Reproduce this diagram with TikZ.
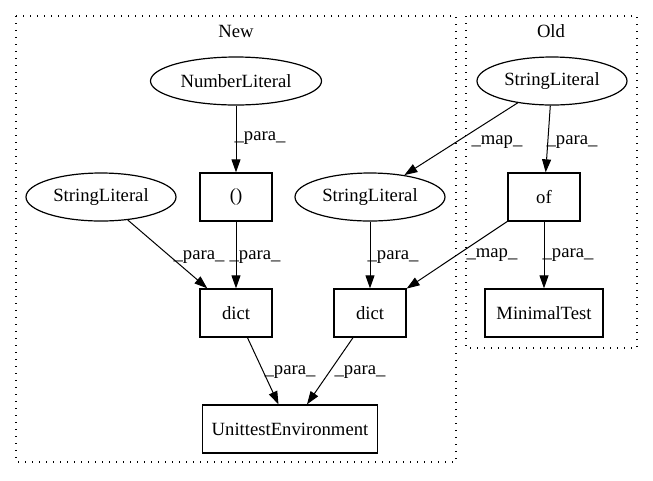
\documentclass[tikz,border=0pt]{standalone}
\usepackage{fontspec}
\setmainfont{Liberation Serif}
\usetikzlibrary{arrows.meta,shapes.geometric}

\tikzset{every picture/.style={line width=0.75pt}}

\begin{document}
\begin{tikzpicture}[x=0.75pt,y=0.75pt,yscale=-1,xscale=1,
    font=\fontsize{14}{16}\selectfont,
    box/.style={draw,rectangle,line width=1pt,inner sep=0pt,minimum width=54pt,minimum height=36pt},
    lit/.style={draw,ellipse,line width=0.9pt,inner sep=0pt,minimum width=112.5pt,minimum height=36pt},
    cluster/.style={draw,line width=1pt,dash pattern=on 1pt off 4.25pt},
    flow/.style={-{Triangle[length=9.75pt,width=6.75pt]}},
    elabel/.style={inner sep=0pt}]
\useasboundingbox (0,0) rectangle (653,480);

%Clusters
\draw [cluster] (16,16) rectangle (456,462);
\draw [cluster] (466,16) rectangle (637,348);
\node (newlbl) at (236,31) {New};
\node (oldlbl) at (551,31) {Old};

%Nodes
\node [lit,minimum width=128.25pt] (numlit) at (236,81) {NumberLiteral};
\node [lit] (strold) at (552,81) {StringLiteral};
\node [lit] (strleft) at (101,197) {StringLiteral};
\node [box] (paren) at (236,197) {()};
\node [lit] (strmid) at (370,197) {StringLiteral};
\node [box] (of) at (544,197) {of};
\node [box] (dictl) at (236,313) {dict};
\node [box] (dictr) at (370,313) {dict};
\node [box,minimum width=88.5pt] (mintest) at (544,313) {MinimalTest};
\node [box,minimum width=131.25pt] (unitenv) at (290,429) {UnittestEnvironment};

%Edges
\draw [flow] (numlit) -- (paren);
\draw [flow] (strold) -- (strmid);
\draw [flow] (strold) -- (of);
\draw [flow] (strleft) -- (dictl);
\draw [flow] (paren) -- (dictl);
\draw [flow] (strmid) -- (dictr);
\draw [flow] (of) -- (dictr);
\draw [flow] (of) -- (mintest);
\draw [flow] (dictl) -- (unitenv);
\draw [flow] (dictr) -- (unitenv);

%Edge labels
\node [elabel] (lnum) at (260,138) {\_para\_};
\node [elabel] (lmapa) at (497,142) {\_map\_};
\node [elabel] (lold) at (572,142) {\_para\_};
\node [elabel] (lleft) at (199,257) {\_para\_};
\node [elabel] (lparen) at (255,257) {\_para\_};
\node [elabel] (lmid) at (393,257) {\_para\_};
\node [elabel] (lmapb) at (492,255) {\_map\_};
\node [elabel] (lof) at (568,255) {\_para\_};
\node [elabel] (ldictl) at (290,372) {\_para\_};
\node [elabel] (ldictr) at (360,372) {\_para\_};

\end{tikzpicture}
\end{document}
